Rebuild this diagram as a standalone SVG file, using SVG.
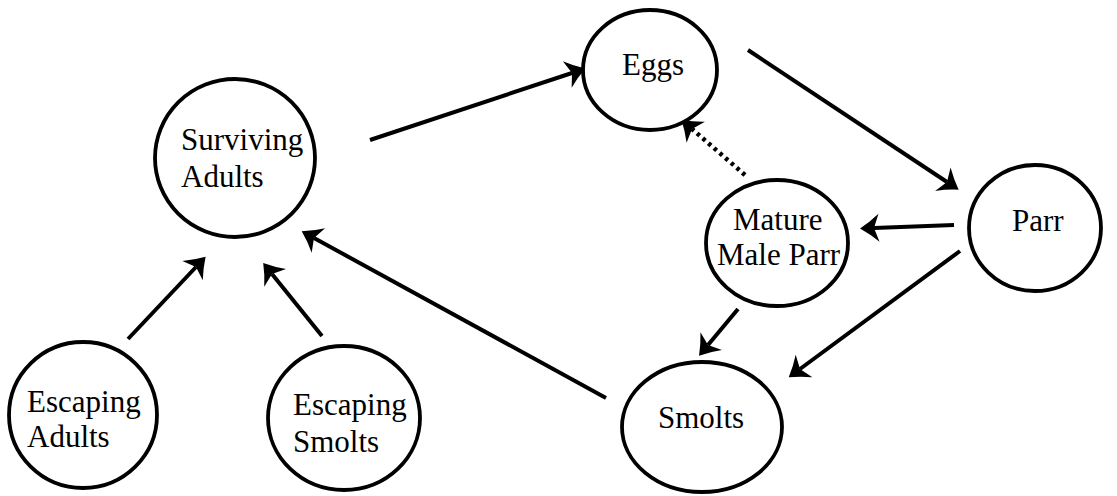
<svg xmlns="http://www.w3.org/2000/svg" width="1117" height="496" viewBox="0 0 1117 496">
<style>
.node{fill:#fff;stroke:#000;stroke-width:3.8}
.edge{stroke:#000;stroke-width:4;fill:none}
.dot{stroke:#000;stroke-width:4.5;fill:none;stroke-dasharray:3.5 4}
.lbl{font-family:'Liberation Serif','Times New Roman',serif;font-size:31px;fill:#000}
</style>
<defs>
<marker id="ah" markerUnits="userSpaceOnUse" markerWidth="22" markerHeight="30" refX="6" refY="14" orient="auto" overflow="visible">
<path d="M20,14 Q10,8 1,0 L6,14 L1,28 Q10,20 20,14 Z" fill="#000"/>
</marker>
</defs>
<rect width="1117" height="496" fill="#fff"/>
<g id="connectors">
<line class="edge" x1="370" y1="140" x2="572" y2="73" marker-end="url(#ah)"/>
<line class="edge" x1="748" y1="50" x2="947" y2="182" marker-end="url(#ah)"/>
<line class="edge" x1="954" y1="225" x2="874" y2="228" marker-end="url(#ah)"/>
<line class="edge" x1="960" y1="251" x2="800" y2="369" marker-end="url(#ah)"/>
<line class="edge" x1="738" y1="309" x2="708" y2="345" marker-end="url(#ah)"/>
<line class="edge" x1="606" y1="398" x2="314" y2="238" marker-end="url(#ah)"/>
<line class="edge" x1="128" y1="339" x2="196" y2="267" marker-end="url(#ah)"/>
<line class="edge" x1="322" y1="336" x2="272" y2="274" marker-end="url(#ah)"/>
<line class="dot" x1="745" y1="175" x2="692" y2="129" marker-end="url(#ah)"/>
</g>
<g id="eggs">
<ellipse class="node" cx="650" cy="70" rx="67" ry="60"/>
<text class="lbl" x="622" y="75">Eggs</text>
</g>
<g id="surviving-adults">
<ellipse class="node" cx="235" cy="158" rx="80" ry="79"/>
<text class="lbl" x="181" y="150">Surviving</text>
<text class="lbl" x="181" y="187">Adults</text>
</g>
<g id="parr">
<ellipse class="node" cx="1035" cy="228" rx="66" ry="63"/>
<text class="lbl" x="1012" y="231">Parr</text>
</g>
<g id="mature-male-parr">
<ellipse class="node" cx="777" cy="243" rx="71" ry="63"/>
<text class="lbl" x="733" y="230">Mature</text>
<text class="lbl" x="717" y="265">Male Parr</text>
</g>
<g id="smolts">
<ellipse class="node" cx="702" cy="427" rx="80" ry="65"/>
<text class="lbl" x="658" y="428">Smolts</text>
</g>
<g id="escaping-adults">
<ellipse class="node" cx="83" cy="415" rx="74" ry="73"/>
<text class="lbl" x="27" y="412">Escaping</text>
<text class="lbl" x="27" y="447">Adults</text>
</g>
<g id="escaping-smolts">
<ellipse class="node" cx="344" cy="418" rx="76" ry="72"/>
<text class="lbl" x="293" y="415">Escaping</text>
<text class="lbl" x="293" y="452">Smolts</text>
</g>
</svg>
